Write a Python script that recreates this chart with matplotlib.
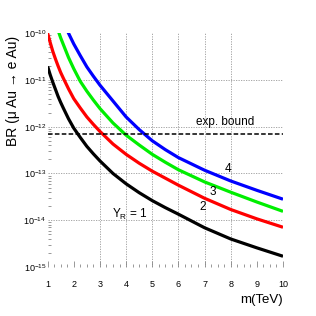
import numpy as np
import matplotlib
matplotlib.use("Agg")
import matplotlib.pyplot as plt
from matplotlib.ticker import FixedLocator, FuncFormatter

plt.rcParams['font.family'] = ['Liberation Sans', 'DejaVu Sans']
plt.rcParams['mathtext.fontset'] = 'custom'
plt.rcParams['mathtext.rm'] = 'Liberation Sans'
plt.rcParams['mathtext.it'] = 'Liberation Sans'

# m (TeV) and log10(BR), one list per Y_R
m_grid = [1, 1.1, 1.2, 1.3, 1.4, 1.5, 1.6, 1.8, 2, 2.25, 2.5, 2.75, 3, 3.5,
          4, 4.5, 5, 5.5, 6, 7, 8, 9, 10]
log_br_y1 = [-10.71, -10.89, -11.05, -11.20, -11.35, -11.48, -11.60, -11.83,
             -12.03, -12.23, -12.42, -12.58, -12.73, -13.00, -13.22, -13.41,
             -13.58, -13.73, -13.87, -14.16, -14.40, -14.59, -14.77]
log_br_y2 = [-10.00, -10.20, -10.39, -10.55, -10.70, -10.84, -10.96, -11.19,
             -11.40, -11.60, -11.79, -11.95, -12.10, -12.37, -12.59, -12.78,
             -12.95, -13.10, -13.25, -13.53, -13.77, -13.97, -14.15]
log_br_y3 = [-9.16, -9.38, -9.58, -9.77, -9.94, -10.10, -10.24, -10.52,
             -10.76, -11.03, -11.24, -11.43, -11.61, -11.92, -12.18, -12.39,
             -12.59, -12.76, -12.92, -13.18, -13.40, -13.61, -13.81]
m_y4 = [1.5, 1.6, 1.8, 2, 2.25, 2.5, 2.75, 3, 3.5, 4, 4.5, 5, 5.5, 6, 7, 8, 9, 10]
log_br_y4 = [-9.60, -9.74, -10.00, -10.23, -10.48, -10.72, -10.92, -11.11,
             -11.45, -11.79, -12.06, -12.30, -12.49, -12.66, -12.93, -13.16,
             -13.36, -13.55]
exp_bound = 7e-13

curves = [(m_grid, log_br_y1, 'black', r'$Y_R$ = 1', 4.15, -13.87),
          (m_grid, log_br_y2, 'red', '2', 6.94, -13.72),
          (m_grid, log_br_y3, '#00ee00', '3', 7.32, -13.40),
          (m_y4, log_br_y4, 'blue', '4', 7.89, -12.91)]

fig = plt.figure(figsize=(3.16, 3.16), dpi=100)
ax = fig.add_axes([0.1506, 0.155, 0.745, 0.74])

for m, lb, c, lab, tx, ty in curves:
    ax.plot(m, 10.0 ** np.array(lb), color=c, lw=2.3, solid_capstyle='butt')
    ax.text(tx, 10 ** ty, lab, fontsize=8.5, ha='center', va='center')

ax.axhline(exp_bound, color='black', lw=1.1, ls=(0, (3, 1.5)))
ax.text(7.77, 10 ** -11.89, 'exp. bound', fontsize=8.5, ha='center', va='center')

# dotted grid
for gx in [3, 4, 5, 6, 7, 8]:
    ax.axvline(gx, color='#999999', lw=0.6, ls=(0, (1.5, 1.5)), zorder=0)
for gy in [1e-11, 1e-12, 1e-13, 1e-14]:
    ax.axhline(gy, color='#999999', lw=0.6, ls=(0, (1.5, 1.5)), zorder=0)

ax.set_yscale('log')
ax.set_xlim(1, 10)
ax.set_ylim(1e-15, 1e-10)
for s in ax.spines.values():
    s.set_visible(False)

ax.xaxis.set_major_locator(FixedLocator(range(1, 11)))
ax.xaxis.set_minor_locator(FixedLocator(np.arange(1, 10.01, 0.25)))
ax.yaxis.set_major_locator(FixedLocator([1e-15, 1e-14, 1e-13, 1e-12, 1e-11, 1e-10]))
ax.yaxis.set_major_formatter(FuncFormatter(lambda v, p: r'$10^{%d}$' % round(np.log10(v))))
ax.tick_params(which='both', direction='in', color='#888888', width=0.6)
ax.tick_params(axis='x', which='major', length=4, labelsize=6.5, pad=9)
ax.tick_params(axis='y', which='major', length=0, labelsize=6.5, pad=1)
ax.tick_params(which='minor', length=2.5)

ax.set_ylabel('BR (μ Au → e Au)', fontsize=10, loc='top')
ax.yaxis.set_label_coords(-0.118, 0.99)
ax.set_xlabel('m(TeV)', fontsize=9.5, loc='right', labelpad=4)

fig.savefig('out.png', dpi=100)
